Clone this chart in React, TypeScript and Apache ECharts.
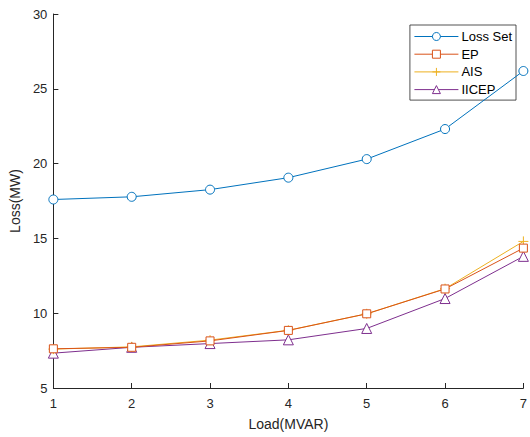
import React, { useEffect, useRef } from "react";
import * as echarts from "echarts";

const loads = [1, 2, 3, 4, 5, 6, 7];
const lossSet = [17.6, 17.78, 18.26, 19.06, 20.3, 22.31, 26.19];
const ep = [7.62, 7.72, 8.15, 8.85, 9.96, 11.62, 14.35];
const ais = [7.6, 7.75, 8.2, 8.86, 9.96, 11.64, 14.8];
const iicep = [7.33, 7.72, 7.97, 8.22, 8.98, 10.98, 13.8];
const seriesNames = ["Loss Set", "EP", "AIS", "IICEP"];
const seriesColors = ["#0072BD", "#D95319", "#EDB120", "#7E2F8E"];

const FONT = "'Liberation Sans', Arial, Helvetica, sans-serif";
const AX = "#262626";

export default function App() {
  const ref = useRef<HTMLDivElement>(null);
  useEffect(() => {
    if (!ref.current) return;
    const chart = echarts.init(ref.current, undefined, { renderer: "svg" });
    const all = [lossSet, ep, ais, iicep];
    const symbols = [
      "circle",
      "rect",
      "path://M0,5L10,5M5,0L5,10",
      "triangle",
    ];
    const sizes = [9, 8, 10, 10];
    const series = all.map((vals, i) => ({
      name: seriesNames[i],
      type: "line",
      data: loads.map((x, j) => [x, vals[j]]),
      symbol: symbols[i],
      symbolSize: sizes[i],
      showAllSymbol: true,
      clip: false,
      z: 10 - i,
      lineStyle: { color: seriesColors[i], width: 1 },
      itemStyle: { color: "#fff", borderColor: seriesColors[i], borderWidth: 1 },
      emphasis: { disabled: true },
    }));
    chart.setOption({
      animation: false,
      backgroundColor: "#fff",
      textStyle: { fontFamily: FONT },
      grid: { left: 53, right: 3, top: 14, bottom: 49, containLabel: false },
      legend: {
        orient: "vertical",
        right: 14,
        top: 25,
        data: seriesNames.map((n, i) => ({
          name: n,
          lineStyle: { color: seriesColors[i], width: 1 },
          itemStyle: { color: "#fff", borderColor: seriesColors[i], borderWidth: 1 },
        })),
        itemWidth: 44,
        itemHeight: 10,
        itemGap: 4.7,
        padding: [5, 4, 4, 4],
        borderColor: "#262626",
        borderWidth: 0.8,
        backgroundColor: "#fff",
        textStyle: { fontFamily: FONT, fontSize: 13, color: "#000", padding: [0, 0, 0, -2] },
        selectedMode: false,
      },
      xAxis: {
        type: "value",
        min: 1,
        max: 7,
        interval: 1,
        name: "Load(MVAR)",
        nameLocation: "middle",
        nameGap: 29,
        nameTextStyle: { fontFamily: FONT, fontSize: 14, color: AX },
        axisLine: { show: true, lineStyle: { color: AX, width: 1 } },
        axisTick: { show: true, inside: true, length: 5, lineStyle: { color: AX } },
        axisLabel: { fontFamily: FONT, fontSize: 13, color: AX, margin: 9 },
        splitLine: { show: false },
      },
      yAxis: {
        type: "value",
        min: 5,
        max: 30,
        interval: 5,
        name: "Loss(MW)",
        nameLocation: "middle",
        nameGap: 28,
        nameTextStyle: { fontFamily: FONT, fontSize: 14, color: AX },
        axisLine: { show: true, lineStyle: { color: AX, width: 1 } },
        axisTick: { show: true, inside: true, length: 5, lineStyle: { color: AX } },
        axisLabel: { fontFamily: FONT, fontSize: 13, color: AX, margin: 6 },
        splitLine: { show: false },
      },
      series,
    });
    return () => chart.dispose();
  }, []);
  return (
    <div
      ref={ref}
      style={{ position: "fixed", left: 0, top: 0, width: 530, height: 437, background: "#fff" }}
    />
  );
}
